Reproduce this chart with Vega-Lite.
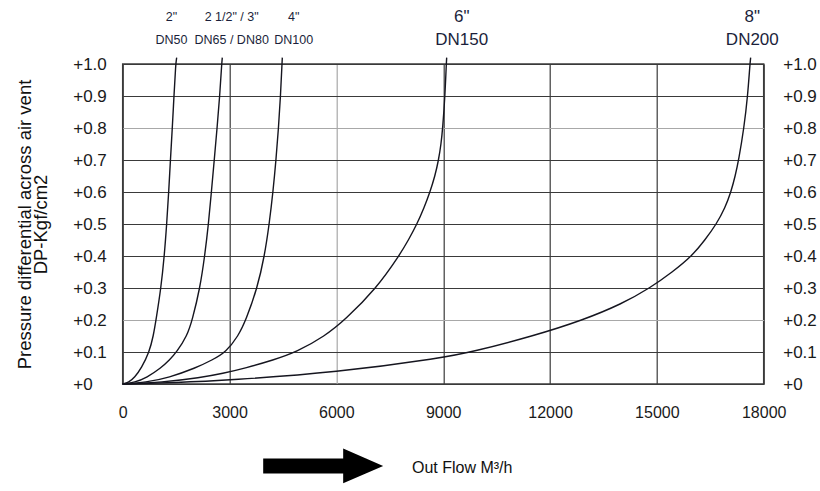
{
  "$schema": "https://vega.github.io/schema/vega-lite/v6.json",
  "width": 641,
  "height": 320,
  "autosize": {"type": "none"},
  "padding": {"left": 122.7, "top": 64, "right": 56.3, "bottom": 107},
  "background": "white",
  "config": {
    "view": {"stroke": "#3c3c3c", "strokeWidth": 1.5},
    "font": "Liberation Sans"
  },
  "datasets": {
    "curves": [
      {"pipe": "DN50", "flow": 0, "dp": 0},
      {"pipe": "DN50", "flow": 168, "dp": 0.005},
      {"pipe": "DN50", "flow": 334, "dp": 0.02},
      {"pipe": "DN50", "flow": 528, "dp": 0.05},
      {"pipe": "DN50", "flow": 747, "dp": 0.1},
      {"pipe": "DN50", "flow": 860, "dp": 0.15},
      {"pipe": "DN50", "flow": 935, "dp": 0.2},
      {"pipe": "DN50", "flow": 1075, "dp": 0.3},
      {"pipe": "DN50", "flow": 1168, "dp": 0.4},
      {"pipe": "DN50", "flow": 1236, "dp": 0.5},
      {"pipe": "DN50", "flow": 1292, "dp": 0.6},
      {"pipe": "DN50", "flow": 1340, "dp": 0.7},
      {"pipe": "DN50", "flow": 1393, "dp": 0.8},
      {"pipe": "DN50", "flow": 1440, "dp": 0.9},
      {"pipe": "DN50", "flow": 1488, "dp": 1.0},
      {"pipe": "DN50", "flow": 1516, "dp": 1.02},
      {"pipe": "DN65/80", "flow": 0, "dp": 0},
      {"pipe": "DN65/80", "flow": 338, "dp": 0.005},
      {"pipe": "DN65/80", "flow": 676, "dp": 0.02},
      {"pipe": "DN65/80", "flow": 1073, "dp": 0.05},
      {"pipe": "DN65/80", "flow": 1314, "dp": 0.075},
      {"pipe": "DN65/80", "flow": 1516, "dp": 0.1},
      {"pipe": "DN65/80", "flow": 1806, "dp": 0.15},
      {"pipe": "DN65/80", "flow": 1954, "dp": 0.2},
      {"pipe": "DN65/80", "flow": 2171, "dp": 0.3},
      {"pipe": "DN65/80", "flow": 2303, "dp": 0.4},
      {"pipe": "DN65/80", "flow": 2409, "dp": 0.5},
      {"pipe": "DN65/80", "flow": 2490, "dp": 0.6},
      {"pipe": "DN65/80", "flow": 2571, "dp": 0.7},
      {"pipe": "DN65/80", "flow": 2650, "dp": 0.8},
      {"pipe": "DN65/80", "flow": 2725, "dp": 0.9},
      {"pipe": "DN65/80", "flow": 2780, "dp": 1.0},
      {"pipe": "DN65/80", "flow": 2797, "dp": 1.02},
      {"pipe": "DN100", "flow": 0, "dp": 0},
      {"pipe": "DN100", "flow": 650, "dp": 0.005},
      {"pipe": "DN100", "flow": 1297, "dp": 0.02},
      {"pipe": "DN100", "flow": 2050, "dp": 0.05},
      {"pipe": "DN100", "flow": 2513, "dp": 0.075},
      {"pipe": "DN100", "flow": 2901, "dp": 0.1},
      {"pipe": "DN100", "flow": 3246, "dp": 0.15},
      {"pipe": "DN100", "flow": 3462, "dp": 0.2},
      {"pipe": "DN100", "flow": 3780, "dp": 0.3},
      {"pipe": "DN100", "flow": 3982, "dp": 0.4},
      {"pipe": "DN100", "flow": 4115, "dp": 0.5},
      {"pipe": "DN100", "flow": 4220, "dp": 0.6},
      {"pipe": "DN100", "flow": 4305, "dp": 0.7},
      {"pipe": "DN100", "flow": 4375, "dp": 0.8},
      {"pipe": "DN100", "flow": 4432, "dp": 0.9},
      {"pipe": "DN100", "flow": 4473, "dp": 1.0},
      {"pipe": "DN100", "flow": 4482, "dp": 1.02},
      {"pipe": "DN150", "flow": 0, "dp": 0},
      {"pipe": "DN150", "flow": 1100, "dp": 0.005},
      {"pipe": "DN150", "flow": 2185, "dp": 0.02},
      {"pipe": "DN150", "flow": 2808, "dp": 0.033},
      {"pipe": "DN150", "flow": 3454, "dp": 0.05},
      {"pipe": "DN150", "flow": 4232, "dp": 0.075},
      {"pipe": "DN150", "flow": 4886, "dp": 0.1},
      {"pipe": "DN150", "flow": 5681, "dp": 0.15},
      {"pipe": "DN150", "flow": 6242, "dp": 0.2},
      {"pipe": "DN150", "flow": 7132, "dp": 0.3},
      {"pipe": "DN150", "flow": 7759, "dp": 0.4},
      {"pipe": "DN150", "flow": 8025, "dp": 0.45},
      {"pipe": "DN150", "flow": 8264, "dp": 0.5},
      {"pipe": "DN150", "flow": 8461, "dp": 0.55},
      {"pipe": "DN150", "flow": 8629, "dp": 0.6},
      {"pipe": "DN150", "flow": 8769, "dp": 0.65},
      {"pipe": "DN150", "flow": 8870, "dp": 0.7},
      {"pipe": "DN150", "flow": 8940, "dp": 0.75},
      {"pipe": "DN150", "flow": 8986, "dp": 0.8},
      {"pipe": "DN150", "flow": 9050, "dp": 0.9},
      {"pipe": "DN150", "flow": 9087, "dp": 1.0},
      {"pipe": "DN150", "flow": 9098, "dp": 1.02},
      {"pipe": "DN200", "flow": 0, "dp": 0},
      {"pipe": "DN200", "flow": 1500, "dp": 0.004},
      {"pipe": "DN200", "flow": 3000, "dp": 0.012},
      {"pipe": "DN200", "flow": 6000, "dp": 0.036},
      {"pipe": "DN200", "flow": 9000, "dp": 0.082},
      {"pipe": "DN200", "flow": 9800, "dp": 0.1},
      {"pipe": "DN200", "flow": 11530, "dp": 0.15},
      {"pipe": "DN200", "flow": 12934, "dp": 0.2},
      {"pipe": "DN200", "flow": 14010, "dp": 0.25},
      {"pipe": "DN200", "flow": 14807, "dp": 0.3},
      {"pipe": "DN200", "flow": 15438, "dp": 0.35},
      {"pipe": "DN200", "flow": 15986, "dp": 0.4},
      {"pipe": "DN200", "flow": 16350, "dp": 0.45},
      {"pipe": "DN200", "flow": 16674, "dp": 0.5},
      {"pipe": "DN200", "flow": 16913, "dp": 0.55},
      {"pipe": "DN200", "flow": 17081, "dp": 0.6},
      {"pipe": "DN200", "flow": 17200, "dp": 0.65},
      {"pipe": "DN200", "flow": 17297, "dp": 0.7},
      {"pipe": "DN200", "flow": 17446, "dp": 0.8},
      {"pipe": "DN200", "flow": 17550, "dp": 0.9},
      {"pipe": "DN200", "flow": 17614, "dp": 1.0},
      {"pipe": "DN200", "flow": 17634, "dp": 1.02}
    ],
    "smallLabels": [
      {"flow": 1370, "txt": ["2\"", "DN50"]},
      {"flow": 3060, "txt": ["2 1/2\" / 3\"", "DN65 / DN80"]},
      {"flow": 4800, "txt": ["4\"", "DN100"]}
    ],
    "largeLabels": [
      {"flow": 9519, "txt": ["6\"", "DN150"]},
      {"flow": 17680, "txt": ["8\"", "DN200"]}
    ]
  },
  "layer": [
    {
      "data": {"name": "curves"},
      "mark": {"type": "line", "interpolate": "basis", "strokeWidth": 1.4, "color": "#15151f"},
      "encoding": {
        "x": {
          "field": "flow",
          "type": "quantitative",
          "scale": {"domain": [0, 18000], "nice": false},
          "axis": {
            "orient": "bottom",
            "values": [0, 3000, 6000, 9000, 12000, 15000, 18000],
            "labelExpr": "format(datum.value, 'd')",
            "labelFlush": false,
            "labelFontSize": 16,
            "labelColor": "#1a1a1a",
            "labelPadding": 20,
            "ticks": false,
            "tickSize": 0,
            "domain": false,
            "grid": true,
            "gridColor": {"condition": {"test": "datum.value == 6000", "value": "#a8a8a8"}, "value": "#3a3a3a"},
            "gridWidth": 1.2,
            "title": "Out Flow M³/h",
            "titleFontSize": 16,
            "titleFontWeight": "normal",
            "titleColor": "#111111",
            "titleX": 339,
            "titleY": 83,
            "titleAlign": "center",
            "titleBaseline": "middle"
          }
        },
        "y": {
          "field": "dp",
          "type": "quantitative",
          "scale": {"domain": [0, 1], "nice": false},
          "axis": {
            "orient": "left",
            "values": [0, 0.1, 0.2, 0.3, 0.4, 0.5, 0.6, 0.7, 0.8, 0.9, 1.0],
            "labelExpr": "datum.value == 0 ? '+0' : '+' + format(datum.value, '.1f')",
            "labelAlign": "left",
            "labelPadding": 50,
            "labelFontSize": 17,
            "labelColor": "#1a1a1a",
            "ticks": false,
            "tickSize": 0,
            "domain": false,
            "grid": true,
            "gridColor": {"condition": {"test": "abs(datum.value - 0.8) < 0.001 || abs(datum.value - 0.2) < 0.001", "value": "#a8a8a8"}, "value": "#3a3a3a"},
            "gridWidth": 1.2,
            "title": ["Pressure differential across air vent", "DP-Kgf/cm2"],
            "titleFontSize": 18.5,
            "titleFontWeight": "normal",
            "titleColor": "#111111",
            "titleAngle": -90,
            "titleX": -98.7,
            "titleY": 160,
            "titleAlign": "center",
            "titleBaseline": "middle",
            "titleLineHeight": 16
          }
        },
        "detail": {"field": "pipe", "type": "nominal"}
      }
    },
    {
      "data": {"name": "smallLabels"},
      "mark": {"type": "text", "fontSize": 12.5, "color": "#1b1f3b", "align": "center", "baseline": "middle", "lineHeight": 23.3, "dy": -47.3},
      "encoding": {
        "x": {"field": "flow", "type": "quantitative"},
        "y": {
          "datum": 1,
          "type": "quantitative",
          "axis": {
            "orient": "right",
            "values": [0, 0.1, 0.2, 0.3, 0.4, 0.5, 0.6, 0.7, 0.8, 0.9, 1.0],
            "labelExpr": "datum.value == 0 ? '+0' : '+' + format(datum.value, '.1f')",
            "labelAlign": "left",
            "labelPadding": 19,
            "labelFontSize": 17,
            "labelColor": "#1a1a1a",
            "ticks": false,
            "tickSize": 0,
            "domain": false,
            "grid": false,
            "title": null
          }
        },
        "text": {"field": "txt", "type": "nominal"}
      }
    },
    {
      "data": {"name": "largeLabels"},
      "mark": {"type": "text", "fontSize": 17, "color": "#1b1f3b", "align": "center", "baseline": "middle", "lineHeight": 23.3, "dy": -47.3},
      "encoding": {
        "x": {"field": "flow", "type": "quantitative"},
        "y": {"datum": 1, "type": "quantitative", "axis": null},
        "text": {"field": "txt", "type": "nominal"}
      }
    },
    {
      "data": {"values": [{}]},
      "mark": {"type": "point", "shape": "M-1,-0.125L0.333,-0.125L0.333,-0.29L1,0L0.333,0.29L0.333,0.125L-1,0.125Z", "filled": true, "color": "#000000", "opacity": 1, "size": 14400, "strokeWidth": 0},
      "encoding": {
        "x": {"datum": 5630, "type": "quantitative"},
        "y": {"datum": -0.256, "type": "quantitative", "axis": null}
      }
    }
  ]
}
